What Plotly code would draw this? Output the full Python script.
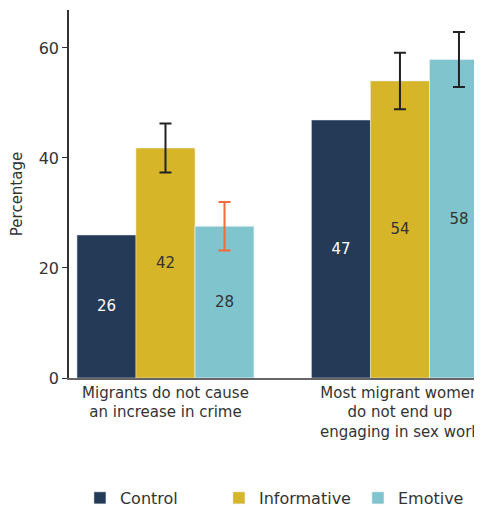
import plotly.graph_objects as go

categories = ["Migrants do not cause<br>an increase in crime",
              "Most migrant women<br>do not end up<br>engaging in sex work"]
control = [26.0, 46.9]
informative = [41.8, 54.0]
informative_err = [4.45, 5.15]
emotive = [27.6, 57.9]
emotive_err = [4.4, 5.0]

C_CONTROL = "#253a57"
C_INFO = "#d6b628"
C_EMO = "#80c4ce"
C_TEXT = "#333333"
FONT = "DejaVu Sans"

fig = go.Figure()
fig.add_trace(go.Bar(
    name="Control", x=categories, y=control, marker_color=C_CONTROL,
    offsetgroup="c", texttemplate="%{y:.0f}", textposition="inside",
    insidetextanchor="middle", textfont=dict(color="white", size=15, family=FONT),
))
fig.add_trace(go.Bar(
    name="Informative", x=categories, y=informative, marker_color=C_INFO,
    offsetgroup="i", texttemplate="%{y:.0f}", textposition="inside",
    insidetextanchor="middle", textfont=dict(color=C_TEXT, size=15, family=FONT),
    error_y=dict(type="data", array=informative_err, visible=True,
                 color="#222222", thickness=2, width=6),
))
fig.add_trace(go.Bar(
    name="Emotive", x=categories, y=emotive, marker_color=C_EMO,
    offsetgroup="e", texttemplate="%{y:.0f}", textposition="inside",
    insidetextanchor="middle", textfont=dict(color=C_TEXT, size=15, family=FONT),
))
# error bars for the Emotive series (first one orange, second one black)
fig.add_trace(go.Bar(
    x=categories[:1], y=emotive[:1], marker_color="rgba(0,0,0,0)",
    offsetgroup="e", showlegend=False, hoverinfo="skip",
    error_y=dict(type="data", array=emotive_err[:1], visible=True,
                 color="#f26b38", thickness=2, width=6),
))
fig.add_trace(go.Bar(
    x=categories[1:], y=emotive[1:], marker_color="rgba(0,0,0,0)",
    offsetgroup="e", showlegend=False, hoverinfo="skip",
    error_y=dict(type="data", array=emotive_err[1:], visible=True,
                 color="#222222", thickness=2, width=6),
))

fig.update_layout(
    width=482, height=508,
    margin=dict(l=61, r=0, t=2, b=138, autoexpand=False),
    paper_bgcolor="white", plot_bgcolor="white",
    barmode="group", bargap=0.245, bargroupgap=0,
    font=dict(family=FONT, size=14, color=C_TEXT),
    legend=dict(orientation="h", x=0.026, xanchor="left", y=-0.326, yanchor="middle",
                font=dict(size=16, color=C_TEXT),
                entrywidth=94, entrywidthmode="pixels", traceorder="normal"),
    showlegend=True,
)
fig.update_xaxes(
    range=[-0.4115, 1.384], showline=True, linecolor="#666666", linewidth=1.5,
    ticks="", tickfont=dict(size=15, color=C_TEXT), showgrid=False,
    automargin=False,
)
fig.update_yaxes(
    range=[0, 66.9], tickvals=[0, 20, 40, 60], showline=True, linecolor=C_TEXT,
    linewidth=1.5, ticks="outside", ticklen=5, tickcolor=C_TEXT,
    tickfont=dict(size=16, color=C_TEXT), showgrid=False, zeroline=False,
    title=dict(text="Percentage", font=dict(size=15, color=C_TEXT), standoff=12),
    automargin=False,
)

fig.write_html("out.html")
